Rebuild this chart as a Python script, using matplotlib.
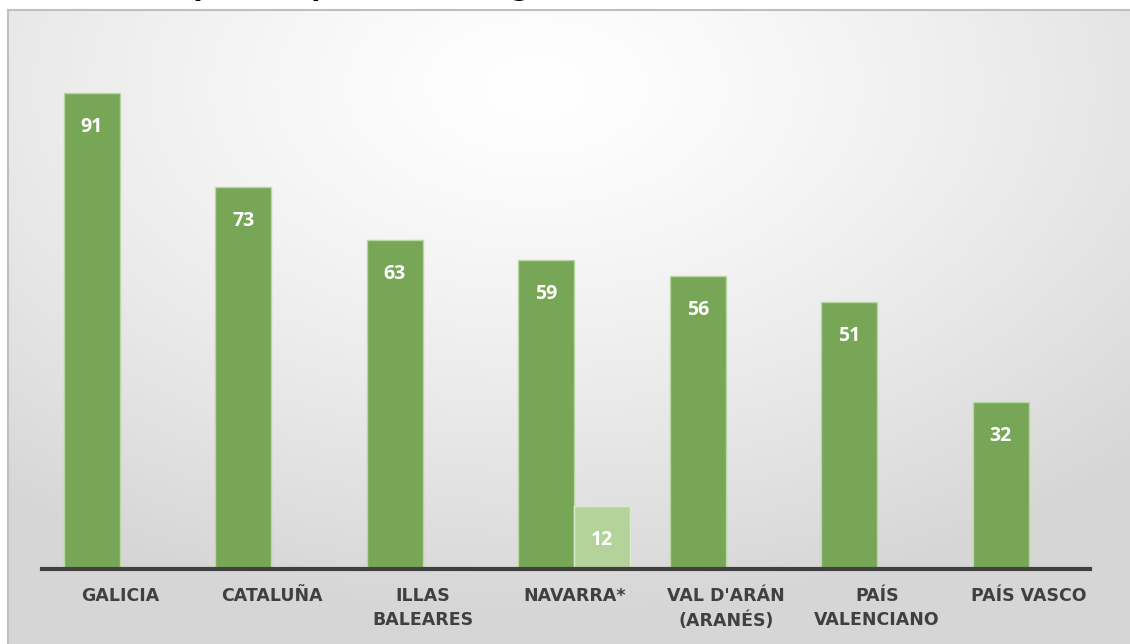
import numpy as np
import matplotlib.pyplot as plt

categories = ["GALICIA", "CATALUÑA", "ILLAS\nBALEARES", "NAVARRA*",
              "VAL D'ARÁN\n(ARANÉS)", "PAÍS\nVALENCIANO", "PAÍS VASCO"]
series_main = [91, 73, 63, 59, 56, 51, 32]
series_extra = [np.nan, np.nan, np.nan, 12, np.nan, np.nan, np.nan]
title_text = "Población que comprende la lengua"

W, H = 1130, 644
fig = plt.figure(figsize=(W / 100, H / 100), dpi=100)
fig.patch.set_facecolor("white")

# background frame with radial gradient
bg = fig.add_axes([8 / W, 0, 1 - 8 / W, (H - 10) / H])
ny, nx = 300, 560
yy, xx = np.mgrid[0:ny, 0:nx]
cx, cy = nx * 0.47, ny * 0.12
r = np.sqrt(((xx - cx) / nx) ** 2 + ((yy - cy) / ny * 0.9) ** 2)
r = np.clip(r / 0.75, 0, 1)
val = 1.0 - 0.16 * r ** 1.3
img = np.dstack([val, val, val])
bg.imshow(img, aspect="auto", extent=[0, 1, 0, 1], origin="upper")
bg.set_xlim(0, 1)
bg.set_ylim(0, 1)
bg.set_xticks([])
bg.set_yticks([])
for s in ["right", "bottom"]:
    bg.spines[s].set_visible(False)
for s in ["top", "left"]:
    bg.spines[s].set_color("#bfbfbf")
    bg.spines[s].set_linewidth(1.5)

# title, cut off at the top as in the reference (only descenders visible)
renderer = fig.canvas.get_renderer()
def _w(s, size):
    t = fig.text(0, 0, s, fontsize=size, fontweight="bold", family="DejaVu Sans")
    w = t.get_window_extent(renderer).width
    t.remove()
    return w
fs = 20
iq, ig = title_text.index("q"), title_text.index("g")
span = _w(title_text[:ig], fs) - _w(title_text[:iq], fs)
fs = fs * 327 / span
xq = _w(title_text[:iq], fs)
fig.text((183 - xq) / W, 1 + 4.5 / H, title_text, fontsize=fs, fontweight="bold",
         family="DejaVu Sans", color="black", va="baseline", ha="left")

# main axes
left, right = 42 / W, 1090 / W
bottom, top = (H - 569) / H, (H - 46) / H
ax = fig.add_axes([left, bottom, right - left, top - bottom])
ax.set_facecolor("none")
x = np.arange(len(categories))
bw = 0.37
b1 = ax.bar(x - bw / 2, series_main, bw, color="#76a656", edgecolor="#b9d7a3", linewidth=1, zorder=3)
b2 = ax.bar(x + bw / 2, series_extra, bw, color="#b3d39a", edgecolor="#dcebd0", linewidth=1, zorder=3)
ax.set_xlim(-0.515, 6.405)
ax.set_ylim(0, 100)

for bars, vals in [(b1, series_main), (b2, series_extra)]:
    for rect, v in zip(bars, vals):
        if np.isnan(v):
            continue
        ax.annotate(f"{v:.0f}", (rect.get_x() + rect.get_width() / 2, v),
                    xytext=(0, -34), textcoords="offset pixels",
                    ha="center", va="center", color="white", fontsize=14,
                    fontweight="bold", family="Open Sans", zorder=4)

for s in ["top", "right", "left"]:
    ax.spines[s].set_visible(False)
ax.spines["bottom"].set_color("#404040")
ax.spines["bottom"].set_linewidth(3)
ax.spines["bottom"].set_zorder(5)
ax.set_yticks([])
ax.set_xticks(x)
ax.set_xticklabels(categories, fontsize=12.5, fontweight="bold", family="DejaVu Sans",
                   color="#404040", linespacing=1.45, va="top")
ax.tick_params(axis="x", length=0, pad=13)

fig.savefig("out.png", dpi=100)
